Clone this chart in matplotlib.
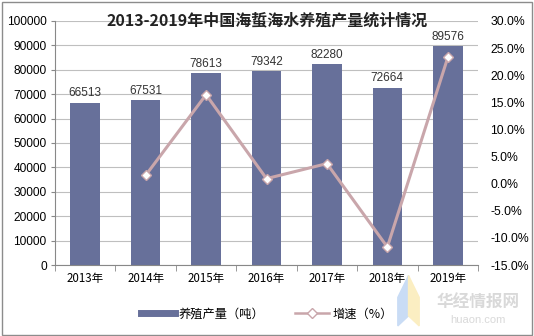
import matplotlib.pyplot as plt
import matplotlib.patches as mpatches
from matplotlib.lines import Line2D
import numpy as np

years = ["2013年", "2014年", "2015年", "2016年", "2017年", "2018年", "2019年"]
output_t = [66513, 67531, 78613, 79342, 82280, 72664, 89576]
growth_years = ["2014年", "2015年", "2016年", "2017年", "2018年", "2019年"]
growth_pct = [1.53, 16.41, 0.93, 3.70, -11.69, 23.27]

bar_color = "#67709a"
line_color = "#c9a6ab"
cjk = ["Noto Sans CJK SC", "DejaVu Sans"]
latin = ["Liberation Sans", "Noto Sans CJK SC"]

fig = plt.figure(figsize=(5.34, 3.36), dpi=100)
fig.patch.set_facecolor("white")
fig.add_artist(mpatches.Rectangle((0.004, 0.004), 0.992, 0.99, transform=fig.transFigure,
                                  fill=False, edgecolor="#8c8c8c", linewidth=1.0))

ax = fig.add_axes([55 / 534, 1 - 265 / 336, (478 - 55) / 534, (265 - 21) / 336])
x = np.arange(len(years))
ax.bar(x, output_t, width=0.49, color=bar_color, zorder=2)
for xi, v in zip(x, output_t):
    ax.text(xi, v + 1500, str(v), ha="center", va="bottom", fontsize=8.5,
            family=latin, color="#333333", zorder=4)

ax.set_xlim(-0.5, len(years) - 0.5)
ax.set_ylim(0, 100000)
ax.set_yticks(np.arange(0, 100001, 10000))
ax.set_yticklabels([str(v) for v in range(0, 100001, 10000)], family=latin, fontsize=8.6)
ax.set_xticks(x)
ax.set_xticklabels(years, family=cjk, fontsize=8.3)
ax.set_xticks(np.arange(-0.5, len(years), 1), minor=True)
ax.tick_params(axis="x", which="major", length=0, pad=5)
ax.tick_params(axis="x", which="minor", length=4, color="#888888")
ax.tick_params(axis="y", length=3, color="#888888", pad=3)
ax.grid(axis="y", color="#bfbfbf", linewidth=0.8, zorder=0)
for side in ["top", "right"]:
    ax.spines[side].set_visible(False)
for side in ["left", "bottom"]:
    ax.spines[side].set_color("#888888")

ax2 = ax.twinx()
gx = [years.index(y) for y in growth_years]
ax2.plot(gx, growth_pct, color=line_color, linewidth=2.2, marker="D", markersize=5.5,
         markerfacecolor="white", markeredgecolor=line_color, markeredgewidth=1.0, zorder=5)
ax2.set_ylim(-15, 30)
ax2.set_yticks(np.arange(-15, 31, 5))
ax2.set_yticklabels([f"{v:.1f}%" for v in range(-15, 31, 5)], family=latin, fontsize=8.8)
ax2.tick_params(axis="y", length=0, pad=9)
for side in ["top", "left", "bottom", "right"]:
    ax2.spines[side].set_visible(False)

fig.text(0.5, 1 - 20 / 336, "2013-2019年中国海蜇海水养殖产量统计情况", ha="center", va="center",
         fontsize=11.5, fontweight="bold", family=cjk, color="#222222")

handles = [
    Line2D([0], [0], color=bar_color, linewidth=5),
    Line2D([0], [0], color=line_color, linewidth=1.8, marker="D", markersize=5,
           markerfacecolor="white", markeredgecolor=line_color),
]
fig.legend(handles, ["养殖产量（吨）", "增速（%）"], loc="center", bbox_to_anchor=(0.5, 1 - 314 / 336),
           ncol=2, frameon=False, prop={"family": cjk, "size": 8.8}, handlelength=2.8,
           columnspacing=2.5, handletextpad=0.3)

# site watermark
fig.text(0.895, 1 - 303 / 336, "华经情报网", ha="center", va="center", fontsize=12,
         family=cjk, color="#d9d9d9", fontweight="bold")
fig.text(0.895, 1 - 320 / 336, "huaon.com", ha="center", va="center", fontsize=8,
         family=latin, color="#d9d9d9")
fig.add_artist(mpatches.Polygon([[0.745, 0.115], [0.765, 0.18], [0.765, 0.06], [0.745, 0.03]],
                                closed=True, transform=fig.transFigure, color="#c9dcf5"))
fig.add_artist(mpatches.Polygon([[0.765, 0.18], [0.785, 0.115], [0.785, 0.03], [0.765, 0.06]],
                                closed=True, transform=fig.transFigure, color="#fbeec2"))

fig.savefig("out.png", dpi=100)
